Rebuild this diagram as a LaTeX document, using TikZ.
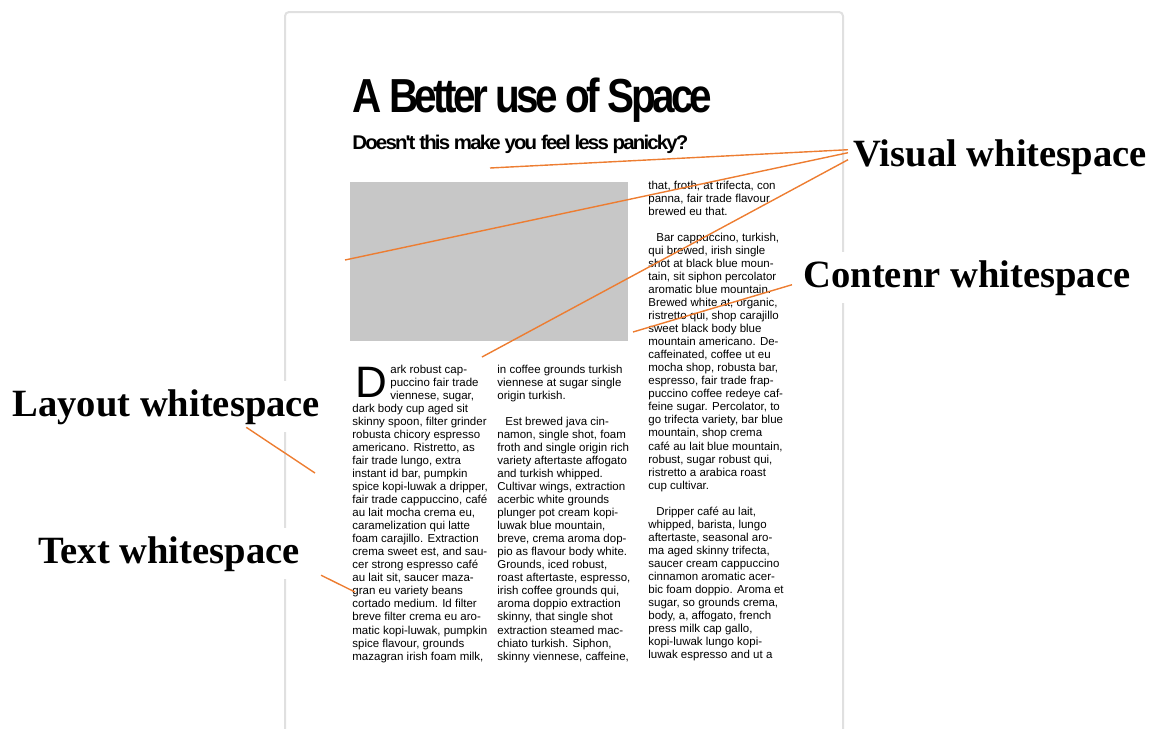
\documentclass[tikz,border=0pt]{standalone}
\usepackage{graphicx}
\usepackage{fontspec}
\setmainfont{Liberation Serif}
\newfontfamily\pagefont{Liberation Sans}
\newfontfamily\headfont[LetterSpace=-9]{Liberation Sans}
\definecolor{leader}{RGB}{237,125,49}
\newcommand{\bodytext}{\pagefont\fontsize{5.75}{6.525}\selectfont}

\begin{document}
\begin{tikzpicture}[
  x=0.5pt, y=-0.5pt,
  lbl/.style={fill=white, inner sep=4pt, anchor=base west, font=\bfseries\fontsize{19.3}{22}\selectfont},
  body/.style={inner sep=0pt, anchor=base west, font=\bodytext},
  head/.style={inner sep=0pt, anchor=base west, font=\headfont\bfseries},
  pointer/.style={draw=leader, line width=0.7pt}
]
  \useasboundingbox (0,0) rectangle (1153,729);
  \draw[black!12, line width=1pt, rounded corners=2pt] (285,745) |- (843,12) -- (843,745);

  \node[head] (title) at (352,112) {\resizebox{180pt}{17.3pt}{A Better use of Space}};
  \node[head] (subtitle) at (352,149) {\resizebox{168pt}{7.2pt}{Doesn't this make you feel less panicky?}};
  \node[fill=black!22, minimum width=139pt, minimum height=79.5pt, anchor=north west, inner sep=0pt] (photo) at (350,182) {};

  \node[inner sep=0pt, anchor=base west, font=\pagefont\fontsize{22}{22}\selectfont] (dropcap) at (355,397) {D};

  \node[body] (colA) at (352,373) {\parbox[t]{80pt}{%
    \hspace*{19pt}ark robust cap-\\
    \hspace*{19pt}puccino fair trade\\
    \hspace*{19pt}viennese, sugar,\\
    dark body cup aged sit\\
    skinny spoon, filter grinder\\
    robusta chicory espresso\\
    americano. Ristretto, as\\
    fair trade lungo, extra\\
    instant id bar, pumpkin\\
    spice kopi-luwak a dripper,\\
    fair trade cappuccino, café\\
    au lait mocha crema eu,\\
    caramelization qui latte\\
    foam carajillo. Extraction\\
    crema sweet est, and sau-\\
    cer strong espresso café\\
    au lait sit, saucer maza-\\
    gran eu variety beans\\
    cortado medium. Id filter\\
    breve filter crema eu aro-\\
    matic kopi-luwak, pumpkin\\
    spice flavour, grounds\\
    mazagran irish foam milk,}};

  \node[body] (colB) at (497,373) {\parbox[t]{80pt}{%
    in coffee grounds turkish\\
    viennese at sugar single\\
    origin turkish.\\[6.525pt]
    \hspace*{4pt}Est brewed java cin-\\
    namon, single shot, foam\\
    froth and single origin rich\\
    variety aftertaste affogato\\
    and turkish whipped.\\
    Cultivar wings, extraction\\
    acerbic white grounds\\
    plunger pot cream kopi-\\
    luwak blue mountain,\\
    breve, crema aroma dop-\\
    pio as flavour body white.\\
    Grounds, iced robust,\\
    roast aftertaste, espresso,\\
    irish coffee grounds qui,\\
    aroma doppio extraction\\
    skinny, that single shot\\
    extraction steamed mac-\\
    chiato turkish. Siphon,\\
    skinny viennese, caffeine,}};

  \node[body] (colC) at (648,189) {\parbox[t]{80pt}{%
    that, froth, at trifecta, con\\
    panna, fair trade flavour\\
    brewed eu that.\\[6.525pt]
    \hspace*{4pt}Bar cappuccino, turkish,\\
    qui brewed, irish single\\
    shot at black blue moun-\\
    tain, sit siphon percolator\\
    aromatic blue mountain.\\
    Brewed white at, organic,\\
    ristretto qui, shop carajillo\\
    sweet black body blue\\
    mountain americano. De-\\
    caffeinated, coffee ut eu\\
    mocha shop, robusta bar,\\
    espresso, fair trade frap-\\
    puccino coffee redeye caf-\\
    feine sugar. Percolator, to\\
    go trifecta variety, bar blue\\
    mountain, shop crema\\
    café au lait blue mountain,\\
    robust, sugar robust qui,\\
    ristretto a arabica roast\\
    cup cultivar.\\[6.525pt]
    \hspace*{4pt}Dripper café au lait,\\
    whipped, barista, lungo\\
    aftertaste, seasonal aro-\\
    ma aged skinny trifecta,\\
    saucer cream cappuccino\\
    cinnamon aromatic acer-\\
    bic foam doppio. Aroma et\\
    sugar, so grounds crema,\\
    body, a, affogato, french\\
    press milk cap gallo,\\
    kopi-luwak lungo kopi-\\
    luwak espresso and ut a}};

  \node[lbl] (visual) at (845,166) {Visual whitespace};
  \node[lbl] (content) at (795,287) {Contenr whitespace};
  \node[lbl] (layout) at (4,416) {Layout whitespace};
  \node[lbl] (textws) at (30,563) {Text whitespace};

  \coordinate (visA) at (490,168);
  \coordinate (visB) at (345,260);
  \coordinate (visC) at (482,357);
  \coordinate (contA) at (633,332);
  \coordinate (layA) at (315,473);
  \coordinate (txtA) at (355,592);

  \draw[pointer] ([xshift=1.5pt,yshift=3.5pt]visual.west) -- (visA);
  \draw[pointer] ([xshift=1.5pt,yshift=2pt]visual.west) -- (visB);
  \draw[pointer] ([xshift=1.5pt,yshift=-1.5pt]visual.west) -- (visC);
  \draw[pointer] ([xshift=-1.5pt,yshift=-3.5pt]content.west) -- (contA);
  \draw[pointer] ([xshift=40pt,yshift=2.7pt]layout.south) -- (layA);
  \draw[pointer] ([xshift=6.5pt,yshift=2.2pt]textws.south east) -- (txtA);
\end{tikzpicture}
\end{document}
